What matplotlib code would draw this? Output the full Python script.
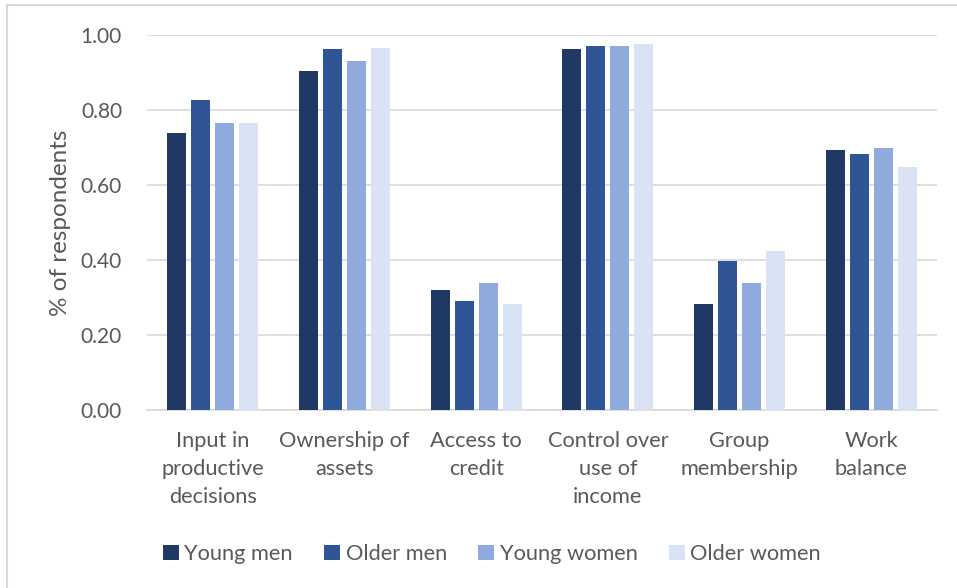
import matplotlib.pyplot as plt
import numpy as np
from matplotlib.patches import Patch, Rectangle

plt.rcParams['font.family'] = ['Lato', 'DejaVu Sans']

# Indicator groups and the four respondent groups
categories = ['Input in\nproductive\ndecisions', 'Ownership of\nassets', 'Access to\ncredit',
              'Control over\nuse of\nincome', 'Group\nmembership', 'Work\nbalance']
series = ['Young men', 'Older men', 'Young women', 'Older women']
young_men = [0.738, 0.905, 0.319, 0.962, 0.284, 0.693]
older_men = [0.827, 0.963, 0.292, 0.972, 0.397, 0.682]
young_women = [0.765, 0.932, 0.338, 0.971, 0.340, 0.700]
older_women = [0.765, 0.966, 0.282, 0.975, 0.424, 0.648]
colors = ['#1F3864', '#2F5597', '#8FAADC', '#DAE3F3']
yticks = [0.0, 0.2, 0.4, 0.6, 0.8, 1.0]

text_col = '#595959'
grid_col = '#D9D9D9'

fig = plt.figure(figsize=(9.57, 5.88), dpi=100)
ax = fig.add_axes([147 / 957, 1 - 410 / 588, 790 / 957, 375 / 588])

x = np.arange(len(categories))
width = 0.144
step = 0.1823
values = [young_men, older_men, young_women, older_women]
for i, (vals, col) in enumerate(zip(values, colors)):
    ax.bar(x + (i - 1.5) * step, vals, width, color=col, zorder=3)

ax.set_xlim(-0.5, len(categories) - 0.5)
ax.set_ylim(0, 1.0)
ax.set_yticks(yticks)
ax.set_yticklabels([f'{v:.2f}' for v in yticks], fontsize=15, color=text_col)
ax.set_xticks(x)
ax.set_xticklabels(categories, fontsize=15.7, color=text_col, linespacing=1.5, va='top')
ax.tick_params(axis='both', length=0)
ax.tick_params(axis='y', pad=18)
ax.tick_params(axis='x', pad=15)
ax.yaxis.grid(True, color=grid_col, linewidth=1.2, zorder=0)
ax.set_axisbelow(True)
for s in ['top', 'right', 'left']:
    ax.spines[s].set_visible(False)
ax.spines['bottom'].set_color(grid_col)
ax.spines['bottom'].set_linewidth(1.2)

ax.set_ylabel('% of respondents', fontsize=17.5, color=text_col)
ax.yaxis.set_label_coords(-(147 - 71) / 790, 0.5)

handles = [Patch(facecolor=c, edgecolor='none', label=s) for s, c in zip(series, colors)]
fig.legend(handles=handles, loc='center', bbox_to_anchor=(492 / 957, 1 - 554 / 588),
           ncol=4, frameon=False, fontsize=15.7, handlelength=0.72, handleheight=0.72,
           handletextpad=0.25, columnspacing=1.45, labelcolor=text_col)

# outer chart frame
fig.patches.append(Rectangle((7 / 957, -0.1), 1.2, 1 - 5 / 588 + 0.1, transform=fig.transFigure,
                             fill=False, edgecolor=grid_col, linewidth=1.5))

fig.savefig('out.png', dpi=100)
